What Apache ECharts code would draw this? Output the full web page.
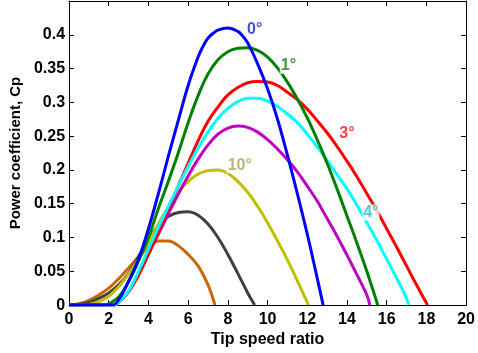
<!DOCTYPE html>
<html><head><meta charset="utf-8">
<script src="https://cdn.jsdelivr.net/npm/echarts@6/dist/echarts.min.js"></script>
<style>html,body{margin:0;padding:0;background:#fff}#c{width:478px;height:353px}</style>
</head><body><div id="c"></div>
<script>
// ---- data ----
const xTickStep = 2;
const yTickStep = 0.05;

const tsr0 = [0,1,2,2.2,2.5,3,3.5,4,4.5,5,5.5,6,6.5,6.75,7,7.25,7.5,8,8.5,8.75,9,9.5,10,10.5,11,11.5,12,12.5,12.8];
const cp0  = [0,0,0,0,0.008,0.035,0.068,0.113,0.165,0.22,0.273,0.325,0.367,0.383,0.395,0.402,0.407,0.41,0.405,0.398,0.388,0.357,0.32,0.275,0.222,0.165,0.105,0.04,0];

const tsr1 = [0,1,1.8,2,2.5,3,3.5,4,4.5,5,5.5,6,6.5,7,7.5,8,8.5,9,9.5,10,10.5,11,11.5,12,12.5,13,13.5,14,14.5,15,15.55];
const cp1  = [0,0,0,0.002,0.012,0.035,0.065,0.1,0.143,0.183,0.225,0.27,0.31,0.342,0.363,0.375,0.38,0.381,0.377,0.367,0.351,0.33,0.305,0.277,0.245,0.21,0.172,0.132,0.092,0.05,0];

const tsr3 = [0,1,2,2.3,2.5,3,3.5,4,4.5,5,5.5,6,6.5,7,7.5,8,8.5,9,9.5,10,10.5,11,11.5,12,12.5,13,13.5,14,14.5,15,15.5,16,16.5,17,17.5,18,18.05];
const cp3  = [0,0,0,0,0.004,0.02,0.044,0.075,0.108,0.143,0.176,0.21,0.243,0.272,0.293,0.311,0.322,0.329,0.331,0.33,0.325,0.315,0.304,0.29,0.273,0.255,0.235,0.213,0.19,0.165,0.14,0.113,0.086,0.058,0.03,0.003,0];

const tsr4 = [0,1,2,2.3,2.5,3,3.5,4,4.5,5,5.5,6,6.5,7,7.5,8,8.5,9,9.5,10,10.5,11,11.5,12,12.5,13,13.5,14,14.5,15,15.5,16,16.5,17,17.1];
const cp4  = [0,0,0,0,0.004,0.021,0.05,0.083,0.115,0.146,0.176,0.205,0.232,0.256,0.276,0.291,0.301,0.306,0.306,0.302,0.294,0.283,0.27,0.253,0.234,0.214,0.193,0.172,0.148,0.122,0.096,0.068,0.04,0.01,0];

const tsr5 = [0,1,2,2.3,2.5,3,3.5,4,4.5,5,5.5,6,6.5,7,7.5,8,8.5,9,9.5,10,10.5,11,11.5,12,12.5,13,13.5,14,14.5,15,15.15];
const cp5  = [0,0,0,0,0.004,0.02,0.046,0.076,0.105,0.135,0.164,0.191,0.216,0.237,0.253,0.262,0.265,0.263,0.256,0.245,0.231,0.215,0.197,0.176,0.154,0.128,0.102,0.074,0.045,0.015,0];

const tsr10 = [0,0.5,1,1.5,2,2.5,3,3.5,4,4.5,5,5.5,6,6.5,7,7.5,8,8.5,9,9.5,10,10.5,11,11.5,12,12.05];
const cp10  = [0,0,0.001,0.005,0.013,0.027,0.046,0.068,0.093,0.12,0.145,0.167,0.183,0.194,0.199,0.2,0.195,0.183,0.167,0.146,0.122,0.095,0.067,0.036,0.004,0];

const tsrG = [0,0.5,1,1.5,2,2.5,3,3.5,4,4.5,5,5.5,6,6.5,7,7.5,8,8.5,9,9.35];
const cpG  = [0,0.001,0.004,0.01,0.018,0.03,0.047,0.072,0.097,0.118,0.131,0.137,0.138,0.133,0.12,0.1,0.075,0.047,0.018,0];

const tsrO = [0,0.5,1,1.5,2,2.5,3,3.5,4,4.5,5,5.5,6,6.5,7,7.35];
const cpO  = [0,0.002,0.007,0.015,0.025,0.039,0.055,0.071,0.086,0.095,0.095,0.088,0.075,0.058,0.03,0];

const labelText = ['0°','1°','3°','4°','10°'];
const labelX    = [9.35, 11.05, 14.0, 15.2, 8.6];
const labelY    = [0.407, 0.354, 0.254, 0.137, 0.207];
const labelColor = ['#1a1ae0','#157a15','#ff1010','#2ebcbc','#a9a255'];

// ---- chart ----
const FONT = '"Liberation Sans", Arial, Helvetica, sans-serif';
const pairs = (xs, ys) => xs.map((x, i) => [x, ys[i]]);
const lineSeries = (name, xs, ys, color) => ({
  name, type: 'line', data: pairs(xs, ys), showSymbol: false, symbol: 'none',
  smooth: 0.4, lineStyle: { color, width: 3 }, itemStyle: { color },
  xAxisIndex: 0, yAxisIndex: 0, clip: true
});

const axisBase = {
  axisLine: { show: true, onZero: false, lineStyle: { color: '#000', width: 1 } },
  axisTick: { show: true, inside: true, length: 5, lineStyle: { color: '#000', width: 1 } },
  splitLine: { show: false }
};

const option = {
  animation: false,
  backgroundColor: '#fff',
  grid: { left: 68, right: 9, top: 1, bottom: 47 },
  xAxis: [
    Object.assign({}, axisBase, {
      type: 'value', min: 0, max: 20, interval: xTickStep, position: 'bottom',
      axisLabel: { color: '#000', fontSize: 16, fontWeight: 'bold', fontFamily: FONT, margin: 6 },
      name: 'Tip speed ratio', nameLocation: 'middle', nameGap: 19,
      nameTextStyle: { color: '#000', fontSize: 16, fontWeight: 'bold', fontFamily: FONT, verticalAlign: 'top' }
    }),
    Object.assign({}, axisBase, {
      type: 'value', min: 0, max: 20, interval: xTickStep, position: 'top',
      axisLabel: { show: false }
    })
  ],
  yAxis: [
    Object.assign({}, axisBase, {
      type: 'value', min: 0, max: 0.45, interval: yTickStep, position: 'left',
      axisLabel: { color: '#000', fontSize: 16, fontWeight: 'bold', fontFamily: FONT, margin: 4,
        formatter: v => (v > 0.441 ? '' : String(+v.toFixed(2))) },
      name: 'Power coefficient, Cp', nameLocation: 'middle', nameGap: 42, nameRotate: 90,
      nameTextStyle: { color: '#000', fontSize: 15, fontWeight: 'bold', fontFamily: FONT }
    }),
    Object.assign({}, axisBase, {
      type: 'value', min: 0, max: 0.45, interval: yTickStep, position: 'right',
      axisLabel: { show: false }
    })
  ],
  series: [
    lineSeries('orange', tsrO, cpO, '#cc6600'),
    lineSeries('gray', tsrG, cpG, '#404040'),
    lineSeries('10', tsr10, cp10, '#bfbf00'),
    lineSeries('5', tsr5, cp5, '#bf00bf'),
    lineSeries('3', tsr3, cp3, '#ff0000'),
    lineSeries('4', tsr4, cp4, '#00ffff'),
    lineSeries('1', tsr1, cp1, '#008000'),
    lineSeries('0', tsr0, cp0, '#0000ff'),
    {
      name: 'labels', type: 'scatter', symbolSize: 0, z: 10, silent: true,
      data: labelText.map((t, i) => ({
        value: [labelX[i], labelY[i]], name: t,
        label: { show: true, position: 'inside', formatter: t, color: labelColor[i],
          fontSize: 16, fontWeight: 'bold', fontFamily: FONT,
          backgroundColor: '#fff', padding: [0, 1] }
      }))
    }
  ]
};

const chart = echarts.init(document.getElementById('c'), null, { renderer: 'canvas' });
chart.setOption(option);
</script>
</body></html>
